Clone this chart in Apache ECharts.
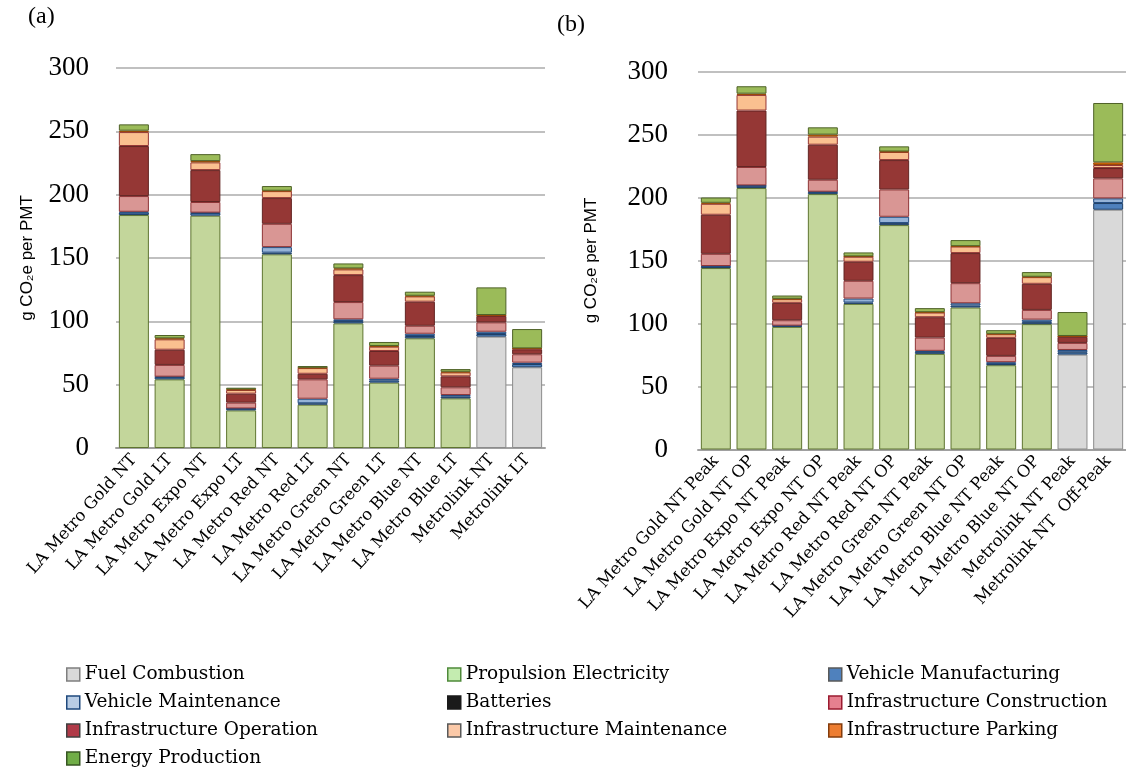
<!DOCTYPE html>
<html lang="en">
<head>
  <meta charset="UTF-8">
  <title>LA Metro emissions</title>
  <style>
    html, body { margin: 0; padding: 0; background: #fff; }
    #main { width: 1126px; height: 768px; }
  </style>
</head>
<body>
  <div id="main"></div>
  <script src="https://cdn.jsdelivr.net/npm/echarts@6/dist/echarts.min.js"></script>
  <script>
    const chart = echarts.init(document.querySelector('#main'));

    // (a) categories and components, g CO2e per PMT
    const catsA = ['LA Metro Gold NT', 'LA Metro Gold LT', 'LA Metro Expo NT', 'LA Metro Expo LT',
      'LA Metro Red NT', 'LA Metro Red LT', 'LA Metro Green NT', 'LA Metro Green LT',
      'LA Metro Blue NT', 'LA Metro Blue LT', 'Metrolink NT', 'Metrolink LT'];
    const fuelA      = [0, 0, 0, 0, 0, 0, 0, 0, 0, 0, 87.9, 63.7];
    const propA      = [183.9, 54.2, 183.4, 29.7, 152.9, 34.2, 98.4, 51.6, 86.6, 39.2, 0, 0];
    const vehMfgA    = [2.0, 1.8, 2.1, 1.3, 1.3, 1.1, 1.8, 1.8, 1.8, 1.3, 2.1, 2.6];
    const vehMaintA  = [0.6, 0.3, 0.3, 0.2, 4.4, 3.6, 1.4, 1.3, 1.8, 1.3, 1.8, 1.1];
    const batteryA   = [0, 0, 0, 0, 0, 0, 0, 0, 0, 0, 0, 0];
    const infConA    = [12.4, 9.3, 8.4, 4.6, 18.4, 15.3, 13.6, 10.3, 6.3, 6.1, 7.4, 6.6];
    const infOpA     = [39.5, 12.0, 25.2, 7.1, 20.3, 4.4, 21.3, 11.6, 19.0, 8.7, 5.0, 3.9];
    const infMaintA  = [11.0, 8.2, 6.1, 2.9, 5.5, 4.5, 4.5, 3.4, 4.2, 3.1, 0.5, 0.5];
    const parkingA   = [1.1, 0.8, 1.0, 0.5, 0.3, 0.3, 0.8, 0.5, 0.5, 0.5, 0.3, 0.3];
    const energyA    = [5.0, 2.6, 5.5, 1.3, 3.7, 1.3, 3.9, 3.2, 3.2, 2.1, 21.8, 15.2];

    // (b) peak / off-peak
    const catsB = ['LA Metro Gold NT Peak', 'LA Metro Gold NT OP', 'LA Metro Expo NT Peak', 'LA Metro Expo NT OP',
      'LA Metro Red NT Peak', 'LA Metro Red NT OP', 'LA Metro Green NT Peak', 'LA Metro Green NT OP',
      'LA Metro Blue NT Peak', 'LA Metro Blue NT OP', 'Metrolink NT Peak', 'Metrolink NT  Off-Peak'];
    const fuelB      = [0, 0, 0, 0, 0, 0, 0, 0, 0, 0, 75.3, 190.3];
    const propB      = [144.0, 207.5, 97.3, 202.7, 115.6, 178.1, 75.9, 112.7, 66.9, 99.5, 0, 0];
    const vehMfgB    = [1.3, 1.8, 0.8, 1.6, 1.0, 1.6, 1.6, 1.6, 1.0, 1.8, 1.9, 5.3];
    const vehMaintB  = [0.3, 0.3, 0.2, 0.3, 3.2, 5.0, 0.8, 1.8, 1.4, 1.8, 1.8, 3.7];
    const batteryB   = [0, 0, 0, 0, 0, 0, 0, 0, 0, 0, 0, 0];
    const infConB    = [9.7, 14.6, 4.3, 9.5, 14.1, 21.7, 10.5, 15.9, 5.0, 7.7, 5.6, 15.9];
    const infOpB     = [31.0, 44.8, 13.8, 27.8, 15.1, 23.3, 16.2, 23.9, 14.3, 20.7, 4.8, 8.2];
    const infMaintB  = [8.7, 12.4, 2.9, 6.4, 4.0, 6.4, 3.7, 5.2, 2.9, 5.3, 0.4, 2.4];
    const parkingB   = [0.8, 1.0, 0.3, 1.6, 0.3, 0.4, 0.3, 0.3, 0.3, 0.3, 0.3, 2.1];
    const energyB    = [4.2, 5.9, 2.6, 5.8, 3.1, 4.1, 3.2, 4.8, 2.9, 3.7, 19.0, 47.1];

    const yTicks = [0, 50, 100, 150, 200, 250, 300];

    // component: name, bar fill, bar border, legend fill, legend border
    const comps = [
      ['Fuel Combustion', '#d9d9d9', '#8c8c8c', '#d9d9d9', '#7f7f7f', fuelA, fuelB],
      ['Propulsion Electricity', '#c3d69b', '#5f7530', '#c4ecb0', '#4f8a3a', propA, propB],
      ['Vehicle Manufacturing', '#4f81bd', '#1f3f66', '#4f81bd', '#595959', vehMfgA, vehMfgB],
      ['Vehicle Maintenance', '#95b3d7', '#1f497d', '#b9cde5', '#1f497d', vehMaintA, vehMaintB],
      ['Batteries', '#111111', '#111111', '#1a1a1a', '#1a1a1a', batteryA, batteryB],
      ['Infrastructure Construction', '#d99694', '#8e3436', '#e6808f', '#9b1b30', infConA, infConB],
      ['Infrastructure Operation', '#953735', '#632523', '#b03a48', '#404040', infOpA, infOpB],
      ['Infrastructure Maintenance', '#fac090', '#953735', '#fbc9a8', '#595959', infMaintA, infMaintB],
      ['Infrastructure Parking', '#e46c0a', '#974806', '#ed7d31', '#843c0c', parkingA, parkingB],
      ['Energy Production', '#9bbb59', '#4f6228', '#70ad47', '#375623', energyA, energyB]
    ];

    const series = [];
    [0, 1].forEach(function (g) {
      comps.forEach(function (c) {
        series.push({
          name: c[0],
          type: 'bar',
          stack: 'panel' + g,
          xAxisIndex: g,
          yAxisIndex: g,
          barCategoryGap: '16%',
          itemStyle: { color: c[1], borderColor: c[2], borderWidth: 1 },
          emphasis: { disabled: true },
          data: c[5 + g].map(function (v) { return v || '-'; })
        });
      });
    });

    function legendCol(names, left) {
      return {
        orient: 'vertical',
        left: left,
        top: 665,
        height: 103,
        padding: 0,
        icon: 'rect',
        itemWidth: 13,
        itemHeight: 13,
        itemGap: 9,
        selectedMode: false,
        textStyle: { fontFamily: 'DejaVu Serif', fontSize: 18.5, lineHeight: 18, color: '#000' },
        data: names.map(function (n) {
          const c = comps.find(function (x) { return x[0] === n; });
          return { name: n, itemStyle: { color: c[3], borderColor: c[4], borderWidth: 1.5 } };
        })
      };
    }

    function xAxisOf(g, cats) {
      return {
        type: 'category',
        gridIndex: g,
        data: cats,
        axisLine: { lineStyle: { color: '#a0a0a0', width: 2 } },
        axisTick: { length: 6, lineStyle: { color: '#a0a0a0', width: 2 } },
        axisLabel: {
          rotate: 48, interval: 0, margin: 9,
          fontFamily: 'DejaVu Serif', fontSize: 16.5, color: '#000'
        }
      };
    }

    function yAxisOf(g, gap, labelGap) {
      return {
        type: 'value',
        gridIndex: g,
        min: yTicks[0],
        max: yTicks[yTicks.length - 1],
        interval: 50,
        name: 'g CO\u2082e per PMT',
        nameLocation: 'middle',
        nameGap: gap,
        nameTextStyle: { fontFamily: 'Liberation Sans', fontSize: 17, color: '#000' },
        axisLine: { show: false },
        axisTick: { show: false },
        axisLabel: { fontFamily: 'Liberation Serif', fontSize: 27, color: '#000', margin: labelGap },
        splitLine: { lineStyle: { color: '#c0c0c0', width: 2 } }
      };
    }

    const option = {
      animation: false,
      grid: [
        { left: 116, top: 68, width: 429, height: 380 },
        { left: 698, top: 71.5, width: 428, height: 378 }
      ],
      xAxis: [xAxisOf(0, catsA), xAxisOf(1, catsB)],
      yAxis: [yAxisOf(0, 80, 27), yAxisOf(1, 98, 30)],
      legend: [
        legendCol(['Fuel Combustion', 'Vehicle Maintenance', 'Infrastructure Operation', 'Energy Production'], 66),
        legendCol(['Propulsion Electricity', 'Batteries', 'Infrastructure Maintenance'], 447),
        legendCol(['Vehicle Manufacturing', 'Infrastructure Construction', 'Infrastructure Parking'], 828)
      ],
      graphic: [
        { type: 'text', left: 28, top: 5, style: { text: '(a)', font: '24px "Liberation Serif"', fill: '#000' } },
        { type: 'text', left: 557, top: 13, style: { text: '(b)', font: '24px "Liberation Serif"', fill: '#000' } }
      ],
      series: series
    };
    chart.setOption(option);
  </script>
</body>
</html>
